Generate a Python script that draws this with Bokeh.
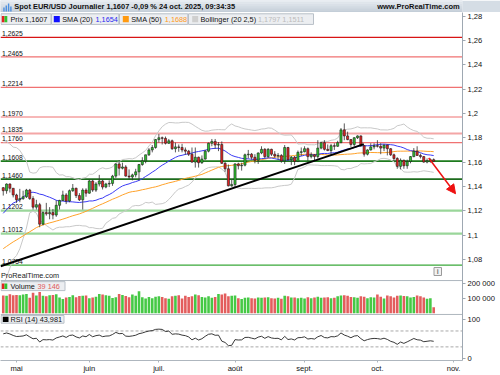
import numpy as np
import pandas as pd
from bokeh.plotting import figure
from bokeh.layouts import column
from bokeh.models import (Range1d, FixedTicker, CustomJSTickFormatter, Label,
                          Arrow, NormalHead)
from bokeh.embed import file_html
from bokeh.resources import INLINE
from bokeh.core.properties import value

# ---------------------------------------------------------------- data
first_day = "2025-04-25"
last_day = "2025-10-24"

# closes before the visible window (Feb 3 - Apr 24), used only for indicators
pre_closes = [1.0345, 1.0380, 1.0405, 1.0380, 1.0330, 1.0305, 1.0360, 1.0385, 1.0465, 1.0490,
              1.0485, 1.0445, 1.0420, 1.0500, 1.0460, 1.0465, 1.0510, 1.0485, 1.0400, 1.0375,
              1.0485, 1.0625, 1.0790, 1.0785, 1.0835, 1.0835, 1.0920, 1.0890, 1.0850, 1.0880,
              1.0920, 1.0945, 1.0900, 1.0855, 1.0815, 1.0800, 1.0790, 1.0755, 1.0800, 1.0830,
              1.0815, 1.0790, 1.0850, 1.1050, 1.0960, 1.0910, 1.0960, 1.0950, 1.1190, 1.1360,
              1.1295, 1.1285, 1.1400, 1.1370, 1.1395, 1.1515, 1.1420, 1.1315, 1.1390]

opens = [1.1390, 1.1365, 1.1420, 1.1385,
         1.1330, 1.1290, 1.1300, 1.1315, 1.1370, 1.1300, 1.1230, 1.1250, 1.1090, 1.1185, 1.1175,
         1.1185, 1.1165, 1.1245, 1.1285, 1.1330, 1.1280, 1.1365, 1.1385, 1.1325, 1.1290, 1.1370,
         1.1345, 1.1445, 1.1370, 1.1420, 1.1445, 1.1395, 1.1420, 1.1425, 1.1485, 1.1585, 1.1550,
         1.1560, 1.1485, 1.1478, 1.1495, 1.1520, 1.1580, 1.1610, 1.1660, 1.1700, 1.1720,
         1.1785, 1.1800, 1.1795, 1.1755, 1.1775, 1.1710, 1.1725, 1.1720, 1.1700, 1.1690, 1.1665,
         1.1600, 1.1640, 1.1595, 1.1625, 1.1690, 1.1755, 1.1770, 1.1740, 1.1745, 1.1590, 1.1545,
         1.1405,
         1.1415, 1.1585, 1.1570, 1.1575, 1.1660, 1.1665, 1.1640, 1.1615, 1.1675, 1.1705, 1.1645,
         1.1705, 1.1665, 1.1650, 1.1655, 1.1610, 1.1720, 1.1620, 1.1640, 1.1605, 1.1680,
         1.1685, 1.1710, 1.1645, 1.1660, 1.1645, 1.1715, 1.1760, 1.1705, 1.1695, 1.1735, 1.1730,
         1.1760, 1.1865, 1.1815, 1.1785, 1.1745, 1.1800, 1.1815, 1.1735, 1.1665, 1.1700, 1.1725,
         1.1735, 1.1730, 1.1715, 1.1740, 1.1710, 1.1660, 1.1630, 1.1565, 1.1615, 1.1570, 1.1605,
         1.1645, 1.1690, 1.1655, 1.1645, 1.1600, 1.1610, 1.1620]
highs = [1.1395, 1.1425, 1.1425, 1.1385,
         1.1340, 1.1380, 1.1365, 1.1380, 1.1380, 1.1320, 1.1290, 1.1265, 1.1195, 1.1265, 1.1230,
         1.1215, 1.1285, 1.1290, 1.1365, 1.1345, 1.1375, 1.1420, 1.1390, 1.1345, 1.1385, 1.1385,
         1.1455, 1.1455, 1.1435, 1.1495, 1.1455, 1.1430, 1.1450, 1.1495, 1.1590, 1.1615, 1.1595,
         1.1575, 1.1540, 1.1505, 1.1545, 1.1585, 1.1640, 1.1660, 1.1715, 1.1740, 1.1790,
         1.1830, 1.1810, 1.1810, 1.1790, 1.1785, 1.1760, 1.1745, 1.1750, 1.1720, 1.1700, 1.1720,
         1.1720, 1.1645, 1.1655, 1.1700, 1.1760, 1.1790, 1.1790, 1.1765, 1.1770, 1.1600, 1.1580,
         1.1455,
         1.1590, 1.1595, 1.1595, 1.1670, 1.1700, 1.1675, 1.1665, 1.1680, 1.1730, 1.1715, 1.1715,
         1.1710, 1.1690, 1.1675, 1.1665, 1.1740, 1.1725, 1.1650, 1.1650, 1.1695, 1.1720,
         1.1730, 1.1720, 1.1680, 1.1665, 1.1780, 1.1765, 1.1780, 1.1745, 1.1750, 1.1755, 1.1775,
         1.1880, 1.1918, 1.1850, 1.1790, 1.1805, 1.1820, 1.1820, 1.1740, 1.1705, 1.1755, 1.1755,
         1.1780, 1.1755, 1.1745, 1.1745, 1.1715, 1.1670, 1.1640, 1.1630, 1.1620, 1.1620, 1.1650,
         1.1715, 1.1730, 1.1670, 1.1650, 1.1630, 1.1630, 1.1630]
lows = [1.1325, 1.1340, 1.1350, 1.1310,
        1.1265, 1.1270, 1.1290, 1.1305, 1.1290, 1.1210, 1.1210, 1.1065, 1.1080, 1.1160, 1.1130,
        1.1130, 1.1150, 1.1210, 1.1280, 1.1255, 1.1270, 1.1355, 1.1305, 1.1280, 1.1210, 1.1315,
        1.1340, 1.1355, 1.1355, 1.1400, 1.1375, 1.1385, 1.1395, 1.1405, 1.1470, 1.1490, 1.1540,
        1.1480, 1.1460, 1.1450, 1.1475, 1.1450, 1.1570, 1.1590, 1.1650, 1.1680, 1.1710,
        1.1760, 1.1745, 1.1745, 1.1750, 1.1700, 1.1680, 1.1685, 1.1680, 1.1660, 1.1650, 1.1595,
        1.1555, 1.1555, 1.1585, 1.1620, 1.1680, 1.1730, 1.1710, 1.1690, 1.1585, 1.1520, 1.1400,
        1.1400,
        1.1390, 1.1540, 1.1530, 1.1565, 1.1630, 1.1620, 1.1590, 1.1585, 1.1665, 1.1630, 1.1635,
        1.1650, 1.1635, 1.1620, 1.1595, 1.1585, 1.1610, 1.1575, 1.1575, 1.1600, 1.1650,
        1.1680, 1.1610, 1.1630, 1.1610, 1.1630, 1.1705, 1.1695, 1.1690, 1.1660, 1.1700, 1.1725,
        1.1755, 1.1780, 1.1780, 1.1725, 1.1730, 1.1790, 1.1725, 1.1645, 1.1655, 1.1695, 1.1705,
        1.1720, 1.1665, 1.1690, 1.1655, 1.1650, 1.1610, 1.1545, 1.1540, 1.1545, 1.1545, 1.1590,
        1.1640, 1.1650, 1.1630, 1.1595, 1.1590, 1.1595, 1.1600]
closes = [1.1365, 1.1420, 1.1385, 1.1330,
          1.1290, 1.1300, 1.1315, 1.1370, 1.1300, 1.1230, 1.1250, 1.1090, 1.1185, 1.1175, 1.1185,
          1.1165, 1.1245, 1.1285, 1.1330, 1.1280, 1.1365, 1.1385, 1.1325, 1.1290, 1.1370, 1.1345,
          1.1445, 1.1370, 1.1420, 1.1445, 1.1395, 1.1420, 1.1425, 1.1485, 1.1585, 1.1550, 1.1560,
          1.1485, 1.1478, 1.1495, 1.1520, 1.1580, 1.1610, 1.1660, 1.1700, 1.1720, 1.1785,
          1.1800, 1.1795, 1.1755, 1.1775, 1.1710, 1.1725, 1.1720, 1.1700, 1.1690, 1.1665, 1.1600,
          1.1640, 1.1595, 1.1625, 1.1690, 1.1755, 1.1770, 1.1740, 1.1745, 1.1590, 1.1545, 1.1405,
          1.1415,
          1.1585, 1.1570, 1.1575, 1.1660, 1.1665, 1.1640, 1.1615, 1.1675, 1.1705, 1.1645, 1.1705,
          1.1665, 1.1650, 1.1655, 1.1610, 1.1720, 1.1620, 1.1640, 1.1605, 1.1680, 1.1685,
          1.1710, 1.1645, 1.1660, 1.1645, 1.1715, 1.1760, 1.1705, 1.1695, 1.1735, 1.1730, 1.1760,
          1.1865, 1.1815, 1.1785, 1.1745, 1.1800, 1.1815, 1.1735, 1.1665, 1.1700, 1.1725, 1.1735,
          1.1730, 1.1715, 1.1740, 1.1710, 1.1660, 1.1630, 1.1565, 1.1615, 1.1570, 1.1605, 1.1645,
          1.1690, 1.1655, 1.1645, 1.1600, 1.1610, 1.1620, 1.1607]
volume_k = [118, 116, 126, 120,
            121, 119, 125, 127, 102, 136, 118, 140, 116, 112, 119, 121, 126, 105, 95, 104, 108,
            120, 106, 114, 116, 117,
            99, 104, 110, 127, 124, 119, 116, 101, 106, 128, 121, 115, 106, 124, 116, 145, 106,
            97, 108, 100, 110,
            112, 108, 100, 96, 112, 116, 119, 98, 116, 108, 113, 125, 120, 108, 104, 112, 103,
            107, 128, 125, 131, 112, 116,
            118, 100, 95, 102, 105, 100, 98, 104, 102, 104, 106, 100, 98, 103, 96, 116, 112, 104,
            104, 100, 102,
            98, 106, 100, 104, 110, 103, 105, 106, 100, 102, 112, 118, 120, 116, 108, 106, 102,
            112, 110, 100, 106, 104,
            124, 110, 98, 118, 112, 104, 116, 118, 114, 112, 104, 108, 118, 112, 104, 96, 100,
            39.146]

level_values = [1.2625, 1.2465, 1.2214, 1.1970, 1.1835, 1.1760, 1.1608, 1.1460, 1.1202, 1.1012, 1.0754]
level_labels = ["1,2625", "1,2465", "1,2214", "1,1970", "1,1835", "1,1760",
                "1,1608", "1,1460", "1,1202", "1,1012", "1,0754"]

price_ticks = [1.08, 1.10, 1.12, 1.14, 1.16, 1.18, 1.20, 1.22, 1.24, 1.26, 1.28]
price_tick_labels = ["1,08", "1,1", "1,12", "1,14", "1,16", "1,18", "1,2", "1,22", "1,24", "1,26", "1,28"]
volume_ticks = [100000, 200000]
volume_tick_labels = ["100 000", "200 000"]
rsi_ticks = [0, 100]
rsi_tick_labels = ["0", "100"]
rsi_guides = [30, 70]
month_names = {5: "mai", 6: "juin", 7: "juil.", 8: "août", 9: "sept.", 10: "oct.", 11: "nov."}

trend_pos = [-0.8, 108.9]
trend_price = [1.0744, 1.1748]
arrow_pos = [128.5, 136.6]
arrow_price = [1.1634, 1.1340]

title_text = "Spot EUR/USD Journalier 1,1607 -0,09 % 24 oct. 2025, 09:34:35"
site_text = "www.ProRealTime.com"
last_price_text = "1,1607"
last_volume_text = "39 146"
last_rsi_text = "43,981"
last_rsi = 43.981

# ---------------------------------------------------------------- indicators
dates = pd.bdate_range(first_day, last_day)
n = len(dates)
pos = np.arange(n)
s = pd.Series(pre_closes + closes, dtype=float)
sma20 = s.rolling(20).mean().to_numpy()[-n:]
sma50 = s.rolling(50).mean().to_numpy()[-n:]
sd20 = s.rolling(20).std(ddof=0).to_numpy()[-n:]
bb_up = sma20 + 2.5 * sd20
bb_lo = sma20 - 2.5 * sd20
d = s.diff()
ag = d.clip(lower=0).ewm(alpha=1 / 14, adjust=False).mean()
al = (-d.clip(upper=0)).ewm(alpha=1 / 14, adjust=False).mean()
rsi = (100 - 100 / (1 + ag / al)).to_numpy()[-n:]

o = np.array(opens); h = np.array(highs); l = np.array(lows); c = np.array(closes)
vol = np.array(volume_k) * 1000
up = c >= o
GREEN, RED = "#2ec42e", "#e32222"
cols = np.where(up, GREEN, RED)
vcols = np.where(up, "#45c945", "#e35d5d")

cal = pd.bdate_range(first_day, "2025-11-28")
month_pos, month_lab = [], []
for m, name in month_names.items():
    month_pos.append(int(np.argmax(cal.month == m)))
    month_lab.append(name)

# ---------------------------------------------------------------- layout scales (page pixels)
FONT = "Liberation Sans"
BAR_PX, MAY_X = 3.311, 16.0
FR_TOP, FR_BOT, FR_RIGHT = 12.0, 362.0, 462.0
P_ANCHOR, P_ANCHOR_Y, P_PX = 1.2625, 37.0, 1224.0
V0_Y, V_PX = 314.5, 15.2e-5
R0_Y, R_PX = 360.3, 0.4


def px2price(y):
    return P_ANCHOR - (y - P_ANCHOR_Y) / P_PX


def vol2px(v):
    return V0_Y - v * V_PX


def rsi2px(r):
    return R0_Y - r * R_PX


x0 = month_pos[0] - MAY_X / BAR_PX
x1 = month_pos[0] + (FR_RIGHT - MAY_X) / BAR_PX

# ---------------------------------------------------------------- header
hdr = figure(width=500, height=12, x_range=Range1d(0, 500), y_range=Range1d(12, 0),
             toolbar_location=None, output_backend="svg", min_border=0,
             x_axis_location=None, y_axis_location=None)
hdr.outline_line_color = None
hdr.grid.visible = False
hdr.background_fill_color = "#d5dde5"
hdr.border_fill_color = "#d5dde5"
strips = ["#e7ecf1", "#e0e6ec", "#d9e0e7", "#d2dae2", "#cbd4dd", "#c4ced8"]
hdr.quad(left=0, right=500, top=[2 * i for i in range(6)], bottom=[2 * i + 2 for i in range(6)],
         fill_color=strips, line_color=None)
hdr.quad(left=[3, 5.5, 8, 10.5], right=[4.5, 7, 9.5, 12], top=[7, 5, 3, 6], bottom=[11, 11, 11, 11],
         fill_color="#4a8fe0", line_color=None)
hdr.text(x=[15], y=[6.4], text=[title_text], text_font=value(FONT), text_font_size="7.45px",
         text_font_style="bold", text_baseline="middle", text_color="#111111")
hdr.text(x=[497], y=[6.4], text=[site_text], text_font=value(FONT), text_font_size="7.5px",
         text_font_style="bold", text_baseline="middle", text_align="right", text_color="#111111")

# ---------------------------------------------------------------- main chart
p = figure(width=500, height=363, x_range=Range1d(x0, x1),
           y_range=Range1d(px2price(FR_BOT), px2price(FR_TOP)),
           toolbar_location=None, output_backend="svg",
           x_axis_location="below", y_axis_location="right",
           min_border_left=0, min_border_top=0, min_border_bottom=13, min_border_right=38)
p.extra_x_ranges = {"px": Range1d(0, FR_RIGHT)}
p.extra_y_ranges = {
    "px": Range1d(FR_BOT, FR_TOP),
    "vol": Range1d(-(FR_BOT - V0_Y) / V_PX, (V0_Y - FR_TOP) / V_PX),
    "rsi": Range1d(-(FR_BOT - R0_Y) / R_PX, (R0_Y - FR_TOP) / R_PX),
}
p.outline_line_color = None
p.grid.visible = False
p.background_fill_color = "white"
p.border_fill_color = "white"

# support / resistance levels
lvl_colors = ["#d81414", "#f07272", "#f07272", "#f07272", "#f4a6a6", "#f07272",
              "#1d7a1d", "#1d6b1d", "#9ad69a", "#9ad69a", "#3aa83a"]
lvl_widths = [1.3, 1.1, 1.1, 1.1, 2.2, 1.2, 1.6, 1.6, 2.2, 2.2, 1.3]
p.segment(x0=x0, x1=x1, y0=level_values, y1=level_values, line_color=lvl_colors,
          line_width=lvl_widths)
p.text(x=1.5, y=level_values, text=level_labels, x_range_name="px", text_baseline="bottom",
       y_offset=-1.2, text_font=value(FONT), text_font_size="6.8px", text_color="#111111")

# bollinger + SMAs
p.line(pos, bb_up, line_color="#c9c9c9", line_width=1)
p.line(pos, bb_lo, line_color="#c9c9c9", line_width=1)
p.line(pos, sma50, line_color="#ffa229", line_width=1)
p.line(pos, sma20, line_color="#3b3bf5", line_width=1)

# candles
p.segment(x0=pos, x1=pos, y0=l, y1=h, line_color="#303030", line_width=0.8)
p.vbar(x=pos, width=0.64, top=np.maximum(o, c), bottom=np.minimum(o, c),
       fill_color=cols, line_color="#1c1c1c", line_width=0.6)

# drawings
p.line(trend_pos, trend_price, line_color="black", line_width=2)
p.add_layout(Arrow(end=NormalHead(size=9, fill_color="#ee1111", line_color="#ee1111"),
                   x_start=arrow_pos[0], y_start=arrow_price[0],
                   x_end=arrow_pos[1], y_end=arrow_price[1],
                   line_color="#ee1111", line_width=1.5))

# volume
p.vbar(x=pos, width=0.78, top=vol, bottom=0, y_range_name="vol",
       fill_color=vcols, line_color=None)

# rsi
p.segment(x0=x0, x1=x1, y0=rsi_guides, y1=rsi_guides, y_range_name="rsi",
          line_color="#a8a8a8", line_width=1, line_dash="3 2")
p.line(pos, rsi, y_range_name="rsi", line_color="#222222", line_width=0.9)

# panel separators
p.segment(x0=0, x1=FR_RIGHT, y0=[281.6, 315.7], y1=[281.6, 315.7],
          x_range_name="px", y_range_name="px", line_color="#aeb6be", line_width=1)

# legend boxes
box_l = [0.5, 51, 119, 188, 0.5, 0.5]
box_r = [50.5, 118.3, 187.3, 313, 64.5, 63.5]
box_t = [13.3, 13.3, 13.3, 13.3, 282.7, 316.7]
box_b = [24.0, 24.0, 24.0, 24.0, 291.7, 324.5]
p.quad(left=box_l, right=box_r, top=box_t, bottom=box_b, x_range_name="px", y_range_name="px",
       fill_color="#eceef1", line_color="#b9c0c8", line_width=1)
ic_l = [1.3, 4.0, 53.3, 122.3, 191.7, 1.3, 4.0, 2.3]
ic_r = [4.0, 6.8, 59.3, 128.3, 197.7, 4.0, 6.8, 8.0]
ic_t = [15.6, 15.6, 15.6, 15.6, 15.6, 284.5, 284.5, 318.0]
ic_b = [21.8, 21.8, 21.8, 21.8, 21.8, 290.0, 290.0, 323.3]
ic_c = [RED, GREEN, "#1010ff", "#ff9a10", "#cfcfcf", RED, GREEN, "#000000"]
p.quad(left=ic_l, right=ic_r, top=ic_t, bottom=ic_b, x_range_name="px", y_range_name="px",
       fill_color=ic_c, line_color=None)
lg_x = [10, 61.7, 95, 130.7, 164.3, 200, 257.5, 10, 37, 10, 0.5]
lg_y = [18.8, 18.8, 18.8, 18.8, 18.8, 18.8, 18.8, 287.3, 287.3, 320.6, 277]
lg_t = ["Prix 1,1607", "SMA (20)", "1,1654", "SMA (50)", "1,1688", "Bollinger (20 2,5)",
        "1,1797 1,1511", "Volume", last_volume_text, "RSI (14) 43,981", "ProRealTime.com"]
lg_c = ["#111111", "#111111", "#2a2af0", "#111111", "#ff9a1a", "#111111", "#bcbcbc",
        "#111111", "#e05a5a", "#111111", "#222222"]
p.text(x=lg_x, y=lg_y, text=lg_t, text_color=lg_c, x_range_name="px", y_range_name="px",
       text_font=value(FONT), text_font_size="7.3px", text_baseline="middle")

# info icon
p.quad(left=[433.5], right=[441], top=[268.5], bottom=[276.5], x_range_name="px", y_range_name="px",
       fill_color="#f2f2f2", line_color="#9a9a9a", line_width=1)
p.text(x=[437.25], y=[272.6], text=["i"], x_range_name="px", y_range_name="px",
       text_font=value(FONT), text_font_size="7px", text_font_style="bold",
       text_align="center", text_baseline="middle", text_color="#777777")

# right axis: price, volume and rsi ticks on one axis
tick_pos = list(price_ticks) + [px2price(vol2px(v)) for v in volume_ticks] + \
    [px2price(rsi2px(r)) for r in rsi_ticks]
tick_lab = price_tick_labels + volume_tick_labels + rsi_tick_labels
ya = p.yaxis[0]
ya.ticker = FixedTicker(ticks=tick_pos, minor_ticks=[])
ya.formatter = CustomJSTickFormatter(args=dict(tk=tick_pos, lb=tick_lab), code="""
    for (let i = 0; i < tk.length; i++) { if (Math.abs(tk[i] - tick) < 1e-7) return lb[i]; }
    return '';""")
ya.axis_line_color = "#9ea8b2"
ya.major_tick_line_color = "#9ea8b2"
ya.major_tick_out = 3
ya.major_tick_in = 0
ya.minor_tick_line_color = None
ya.major_label_standoff = 2
ya.major_label_text_font = FONT
ya.major_label_text_font_size = "7.6px"
ya.major_label_text_color = "#111111"

xa = p.xaxis[0]
xa.ticker = FixedTicker(ticks=month_pos, minor_ticks=[])
xa.major_label_overrides = {int(k): v for k, v in zip(month_pos, month_lab)}
xa.axis_line_color = "#aeb6be"
xa.major_tick_line_color = "#aeb6be"
xa.major_tick_out = 2
xa.major_tick_in = 0
xa.minor_tick_line_color = None
xa.major_label_standoff = 1
xa.major_label_text_font = FONT
xa.major_label_text_font_size = "7.6px"
xa.major_label_text_color = "#111111"

# last value boxes
p.add_layout(Label(x=465.5, y=closes[-1], x_range_name="px", text=last_price_text,
                   text_font=FONT, text_font_size="8.8px", text_font_style="bold",
                   text_baseline="middle", text_color="#111111", padding=1,
                   background_fill_color="#f3d23a", border_line_color="#8d7a1f"))
p.add_layout(Label(x=465.5, y=vol[-1], x_range_name="px", y_range_name="vol",
                   text=last_volume_text, text_font=FONT, text_font_size="7.8px",
                   text_baseline="middle", text_color="#e05a5a", padding=1,
                   background_fill_color="white", border_line_color="#c4cad0"))
p.add_layout(Label(x=465.5, y=last_rsi, x_range_name="px", y_range_name="rsi",
                   text=last_rsi_text, text_font=FONT, text_font_size="7.8px",
                   text_baseline="middle", text_color="#111111", padding=1,
                   background_fill_color="white", border_line_color="#aab2ba"))

layout = column(hdr, p, spacing=0)
open("out.html", "w").write(file_html(layout, INLINE))
